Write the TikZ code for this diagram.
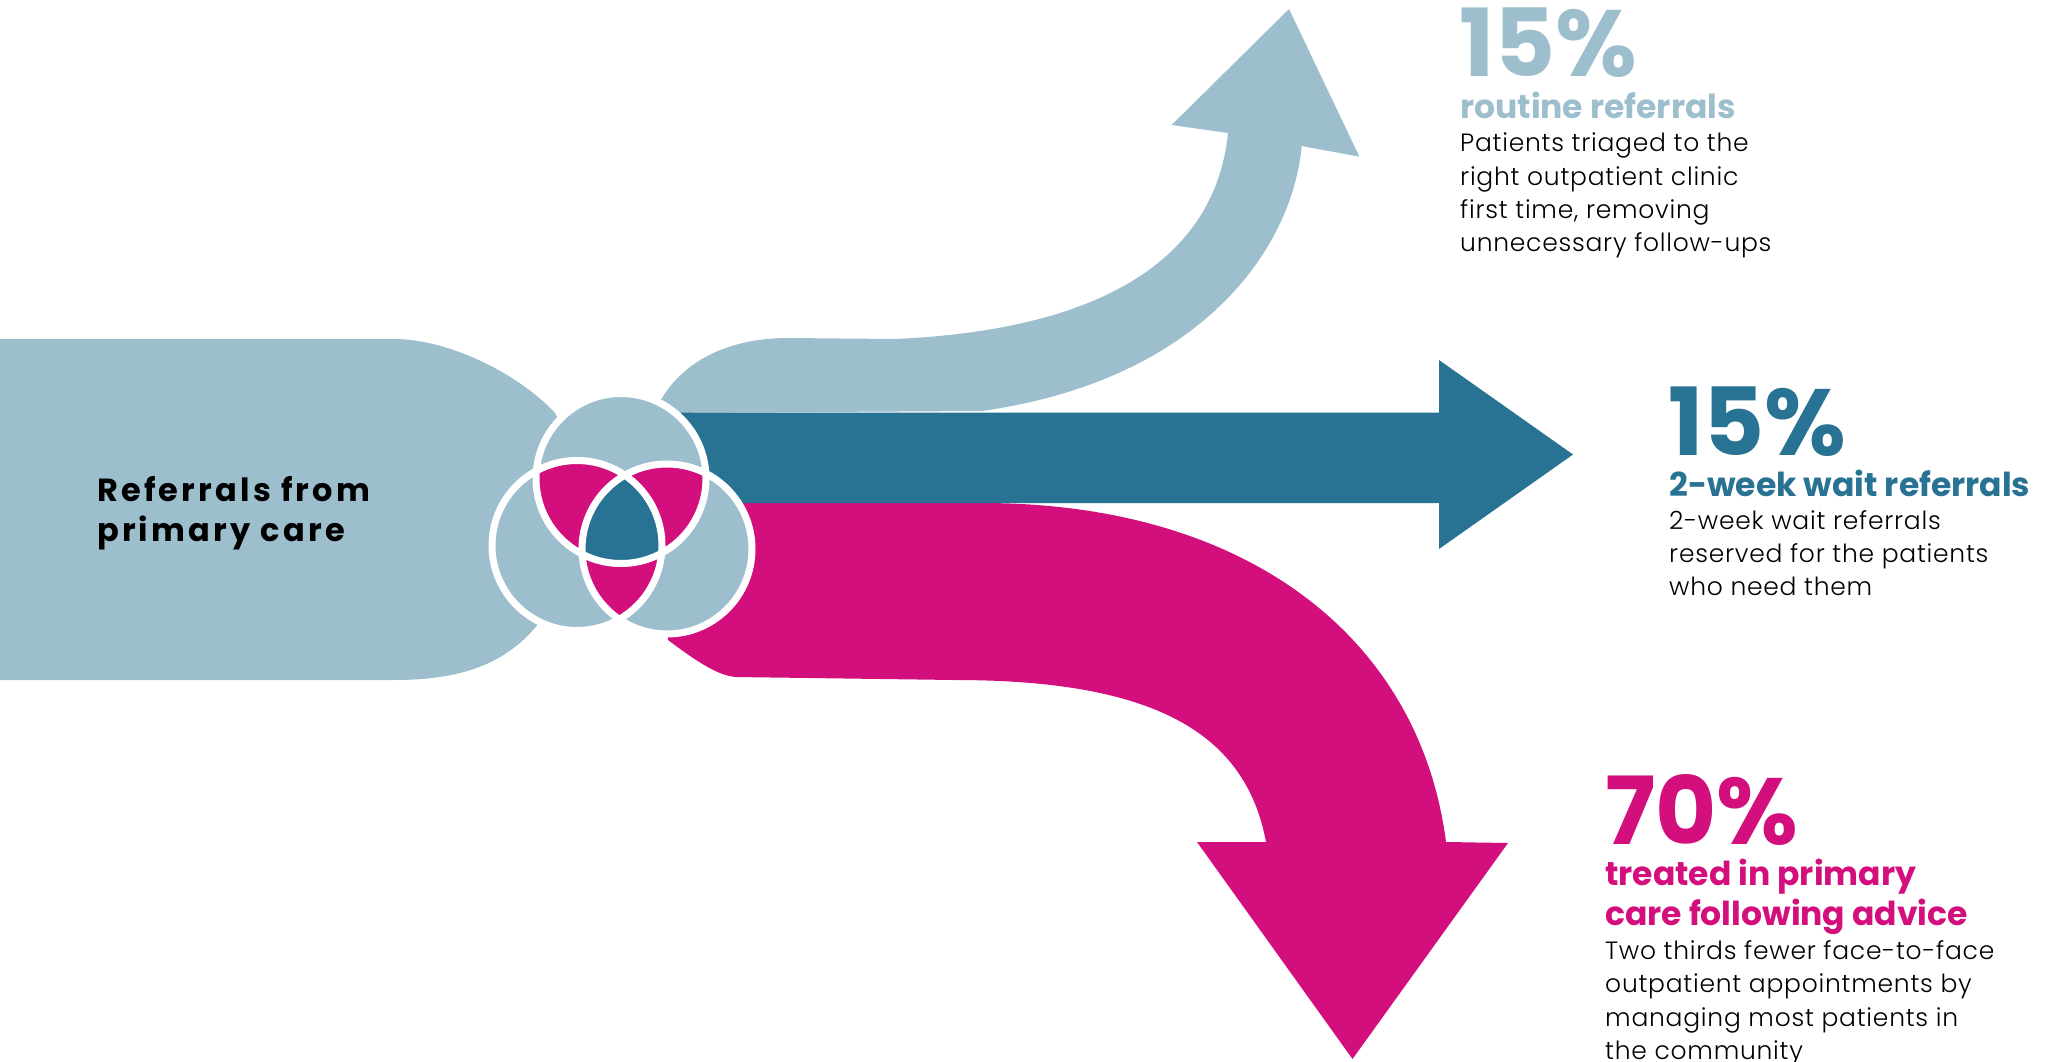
\documentclass[tikz,border=0pt]{standalone}
\usepackage{fontspec}
\setmainfont{Poppins}
\newfontfamily\lightfont{Poppins}[UprightFont=* Light, LetterSpace=3]
\newfontfamily\trackfont{Poppins}[LetterSpace=10]
\usepackage{tikz}
\usetikzlibrary{positioning}
\definecolor{RefBlue}{HTML}{9DBFCD}
\definecolor{WaitTeal}{HTML}{287293}
\definecolor{CarePink}{HTML}{D30F7D}
\tikzset{
  pctlabel/.style={anchor=base west, inner sep=0pt, font=\fontsize{94}{94}\selectfont\bfseries},
  headlabel/.style={anchor=base west, inner sep=0pt, align=left, font=\fontsize{33}{40}\selectfont\bfseries},
  bodytext/.style={anchor=base west, inner sep=0pt, align=left, text=black, font=\lightfont\fontsize{25}{33.3}\selectfont},
  sourcetext/.style={anchor=base west, inner sep=0pt, align=left, text=black, font=\trackfont\fontsize{32}{40.7}\selectfont\bfseries},
  ringline/.style={draw=white, line width=7pt}
}

\begin{document}
\begin{tikzpicture}[x=1pt, y=-1pt]
  \useasboundingbox (0,0) rectangle (2060,1062);

  % Referrals from primary care
  \fill[RefBlue] (0,339) -- (394,339) .. controls (450,339) and (520,375) .. (555,413) -- (600,500)
    -- (545,615) .. controls (510,665) and (460,680) .. (394,680) -- (0,680) -- cycle;
  % (multi-line nodes sit on their last baseline)
  \node[sourcetext] (source) at (97,541.7) {Referrals from\\primary care};

  % Routine referrals arrow
  \fill[RefBlue] (662,398) .. controls (685,360) and (730,338) .. (788,338) -- (895,339)
    .. controls (1100,330) and (1215,260) .. (1228,133) -- (1171.6,125) -- (1289,9) -- (1359.4,156.7)
    -- (1301.7,146) .. controls (1292,250) and (1200,380) .. (982,411) -- (650,413) -- cycle;

  % Primary care arrow
  \fill[CarePink] (650,503) -- (982,503) .. controls (1250,503) and (1420,640) .. (1446,842)
    -- (1508,843) -- (1352.5,1059) -- (1197,842) -- (1266,842) .. controls (1245,730) and (1150,680) .. (954,680)
    -- (735,677) .. controls (718,675) and (700,664) .. (668,640) -- cycle;

  % 2-week wait arrow
  \fill[WaitTeal] (660,412.5) -- (1439,412.5) -- (1439,360) -- (1573,454.5) -- (1439,549) -- (1439,503) -- (660,503) -- cycle;

  % Venn
  \coordinate (vtop) at (621,478.5);
  \coordinate (vleft) at (577,545.5);
  \coordinate (vright) at (667,549);
  \fill[RefBlue] (vtop) circle (85) (vleft) circle (85) (vright) circle (85);
  \begin{scope}
    \clip (vtop) circle (85);
    \fill[CarePink] (vleft) circle (85) (vright) circle (85);
  \end{scope}
  \begin{scope}
    \clip (vleft) circle (85);
    \fill[CarePink] (vright) circle (85);
  \end{scope}
  \begin{scope}
    \clip (vtop) circle (85);
    \clip (vleft) circle (85);
    \fill[WaitTeal] (vright) circle (85);
  \end{scope}
  \draw[ringline] (vtop) circle (85) (vleft) circle (85) (vright) circle (85);

  % Routine referrals
  \node[pctlabel, text=RefBlue] (pctroutine) at (1459,77) {15\%};
  \node[headlabel, text=RefBlue] (headroutine) at (1460,118.3) {routine referrals};
  \node[bodytext] (bodyroutine) at (1460,251.6) {Patients triaged to the\\right outpatient clinic\\first time, removing\\unnecessary follow-ups};

  % 2-week wait referrals
  \node[pctlabel, text=WaitTeal] (pctwait) at (1668,455) {15\%};
  \node[headlabel, text=WaitTeal] (headwait) at (1669,496) {2-week wait referrals};
  \node[bodytext] (bodywait) at (1669,595.9) {2-week wait referrals\\reserved for the patients\\who need them};

  % Treated in primary care
  \node[pctlabel, text=CarePink] (pctcare) at (1605,844) {70\%};
  \node[headlabel, text=CarePink] (headcare) at (1605,925) {treated in primary\\care following advice};
  \node[bodytext] (bodycare) at (1605,1059.4) {Two thirds fewer face-to-face\\outpatient appointments by\\managing most patients in\\the community};
\end{tikzpicture}
\end{document}
